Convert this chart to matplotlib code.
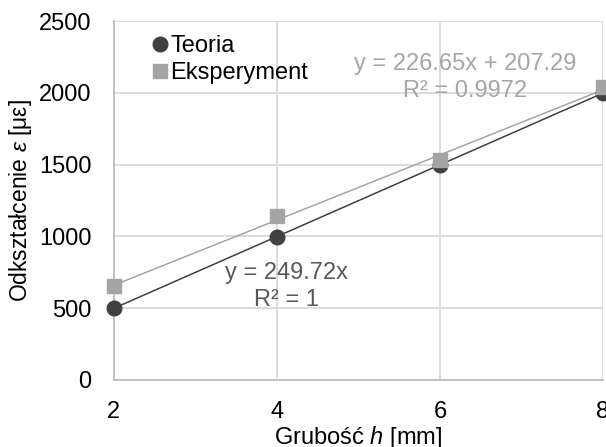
import numpy as np
import matplotlib
matplotlib.use("Agg")
import matplotlib.pyplot as plt
from matplotlib.lines import Line2D

plt.rcParams['font.family'] = ['Liberation Sans', 'DejaVu Sans']
plt.rcParams['mathtext.fontset'] = 'custom'
plt.rcParams['mathtext.rm'] = 'Liberation Sans'
plt.rcParams['mathtext.it'] = 'Liberation Sans:italic'

thickness = [2, 4, 6, 8]
theory = [499.44, 998.88, 1498.32, 1997.76]
experiment = [655, 1140, 1530, 2037]
x_ticks = [2, 4, 6, 8]
y_ticks = [0, 500, 1000, 1500, 2000, 2500]

c_theory = '#404040'
c_exp = '#a5a5a5'
grid_c = '#d9d9d9'
FS = 17

fig = plt.figure(figsize=(6.06, 4.47), dpi=100)
ax = fig.add_axes([0.188, 0.150, 0.807, 0.803])

x = np.array(thickness, dtype=float)
xs = np.array([2, 8], dtype=float)

# trendlines
k_t = np.sum(x * np.array(theory)) / np.sum(x * x)
ax.plot(xs, k_t * xs, color=c_theory, lw=1.1, zorder=3)
p_e = np.polyfit(x, experiment, 1)
ax.plot(xs, np.polyval(p_e, xs), color=c_exp, lw=1.1, zorder=3)

ax.plot(thickness, theory, 'o', color=c_theory, ms=10.5, zorder=4, clip_on=False)
ax.plot(thickness, experiment, 's', color=c_exp, ms=10, zorder=5, clip_on=False)

ax.set_xlim(2, 8)
ax.set_ylim(0, 2500)
ax.set_xticks(x_ticks)
ax.set_yticks(y_ticks)
ax.tick_params(axis='both', length=0, labelsize=FS)
ax.tick_params(axis='x', pad=15)
ax.tick_params(axis='y', pad=16)
ax.grid(True, color=grid_c, lw=1.3)
ax.set_axisbelow(True)
for s in ['top', 'right']:
    ax.spines[s].set_visible(False)
for s in ['left', 'bottom']:
    ax.spines[s].set_color('#bfbfbf')
    ax.spines[s].set_linewidth(1.3)

ax.set_xlabel('Grubość $\\mathit{h}$ [mm]', fontsize=FS, labelpad=1)
ax.set_ylabel('Odkształcenie $\\mathit{ε}$ [με]', fontsize=16.5, labelpad=4)

ax.text(6.31, 2200, 'y = 226.65x + 207.29', color=c_exp, fontsize=FS,
        ha='center', va='center')
ax.text(6.31, 2012, 'R² = 0.9972', color=c_exp, fontsize=FS,
        ha='center', va='center')
ax.text(4.117, 745, 'y = 249.72x', color='#595959', fontsize=FS,
        ha='center', va='center')
ax.text(4.117, 557, 'R² = 1', color='#595959', fontsize=FS,
        ha='center', va='center')

handles = [Line2D([], [], ls='none', marker='o', color=c_theory, ms=10.5),
           Line2D([], [], ls='none', marker='s', color=c_exp, ms=10)]
ax.legend(handles, ['Teoria', 'Eksperyment'], loc='upper left',
          bbox_to_anchor=(0.05, 1.0), frameon=False, fontsize=FS,
          handlelength=0.6, handletextpad=0.15, labelspacing=0.22,
          borderaxespad=0.2)

fig.savefig('out.png', dpi=100)
